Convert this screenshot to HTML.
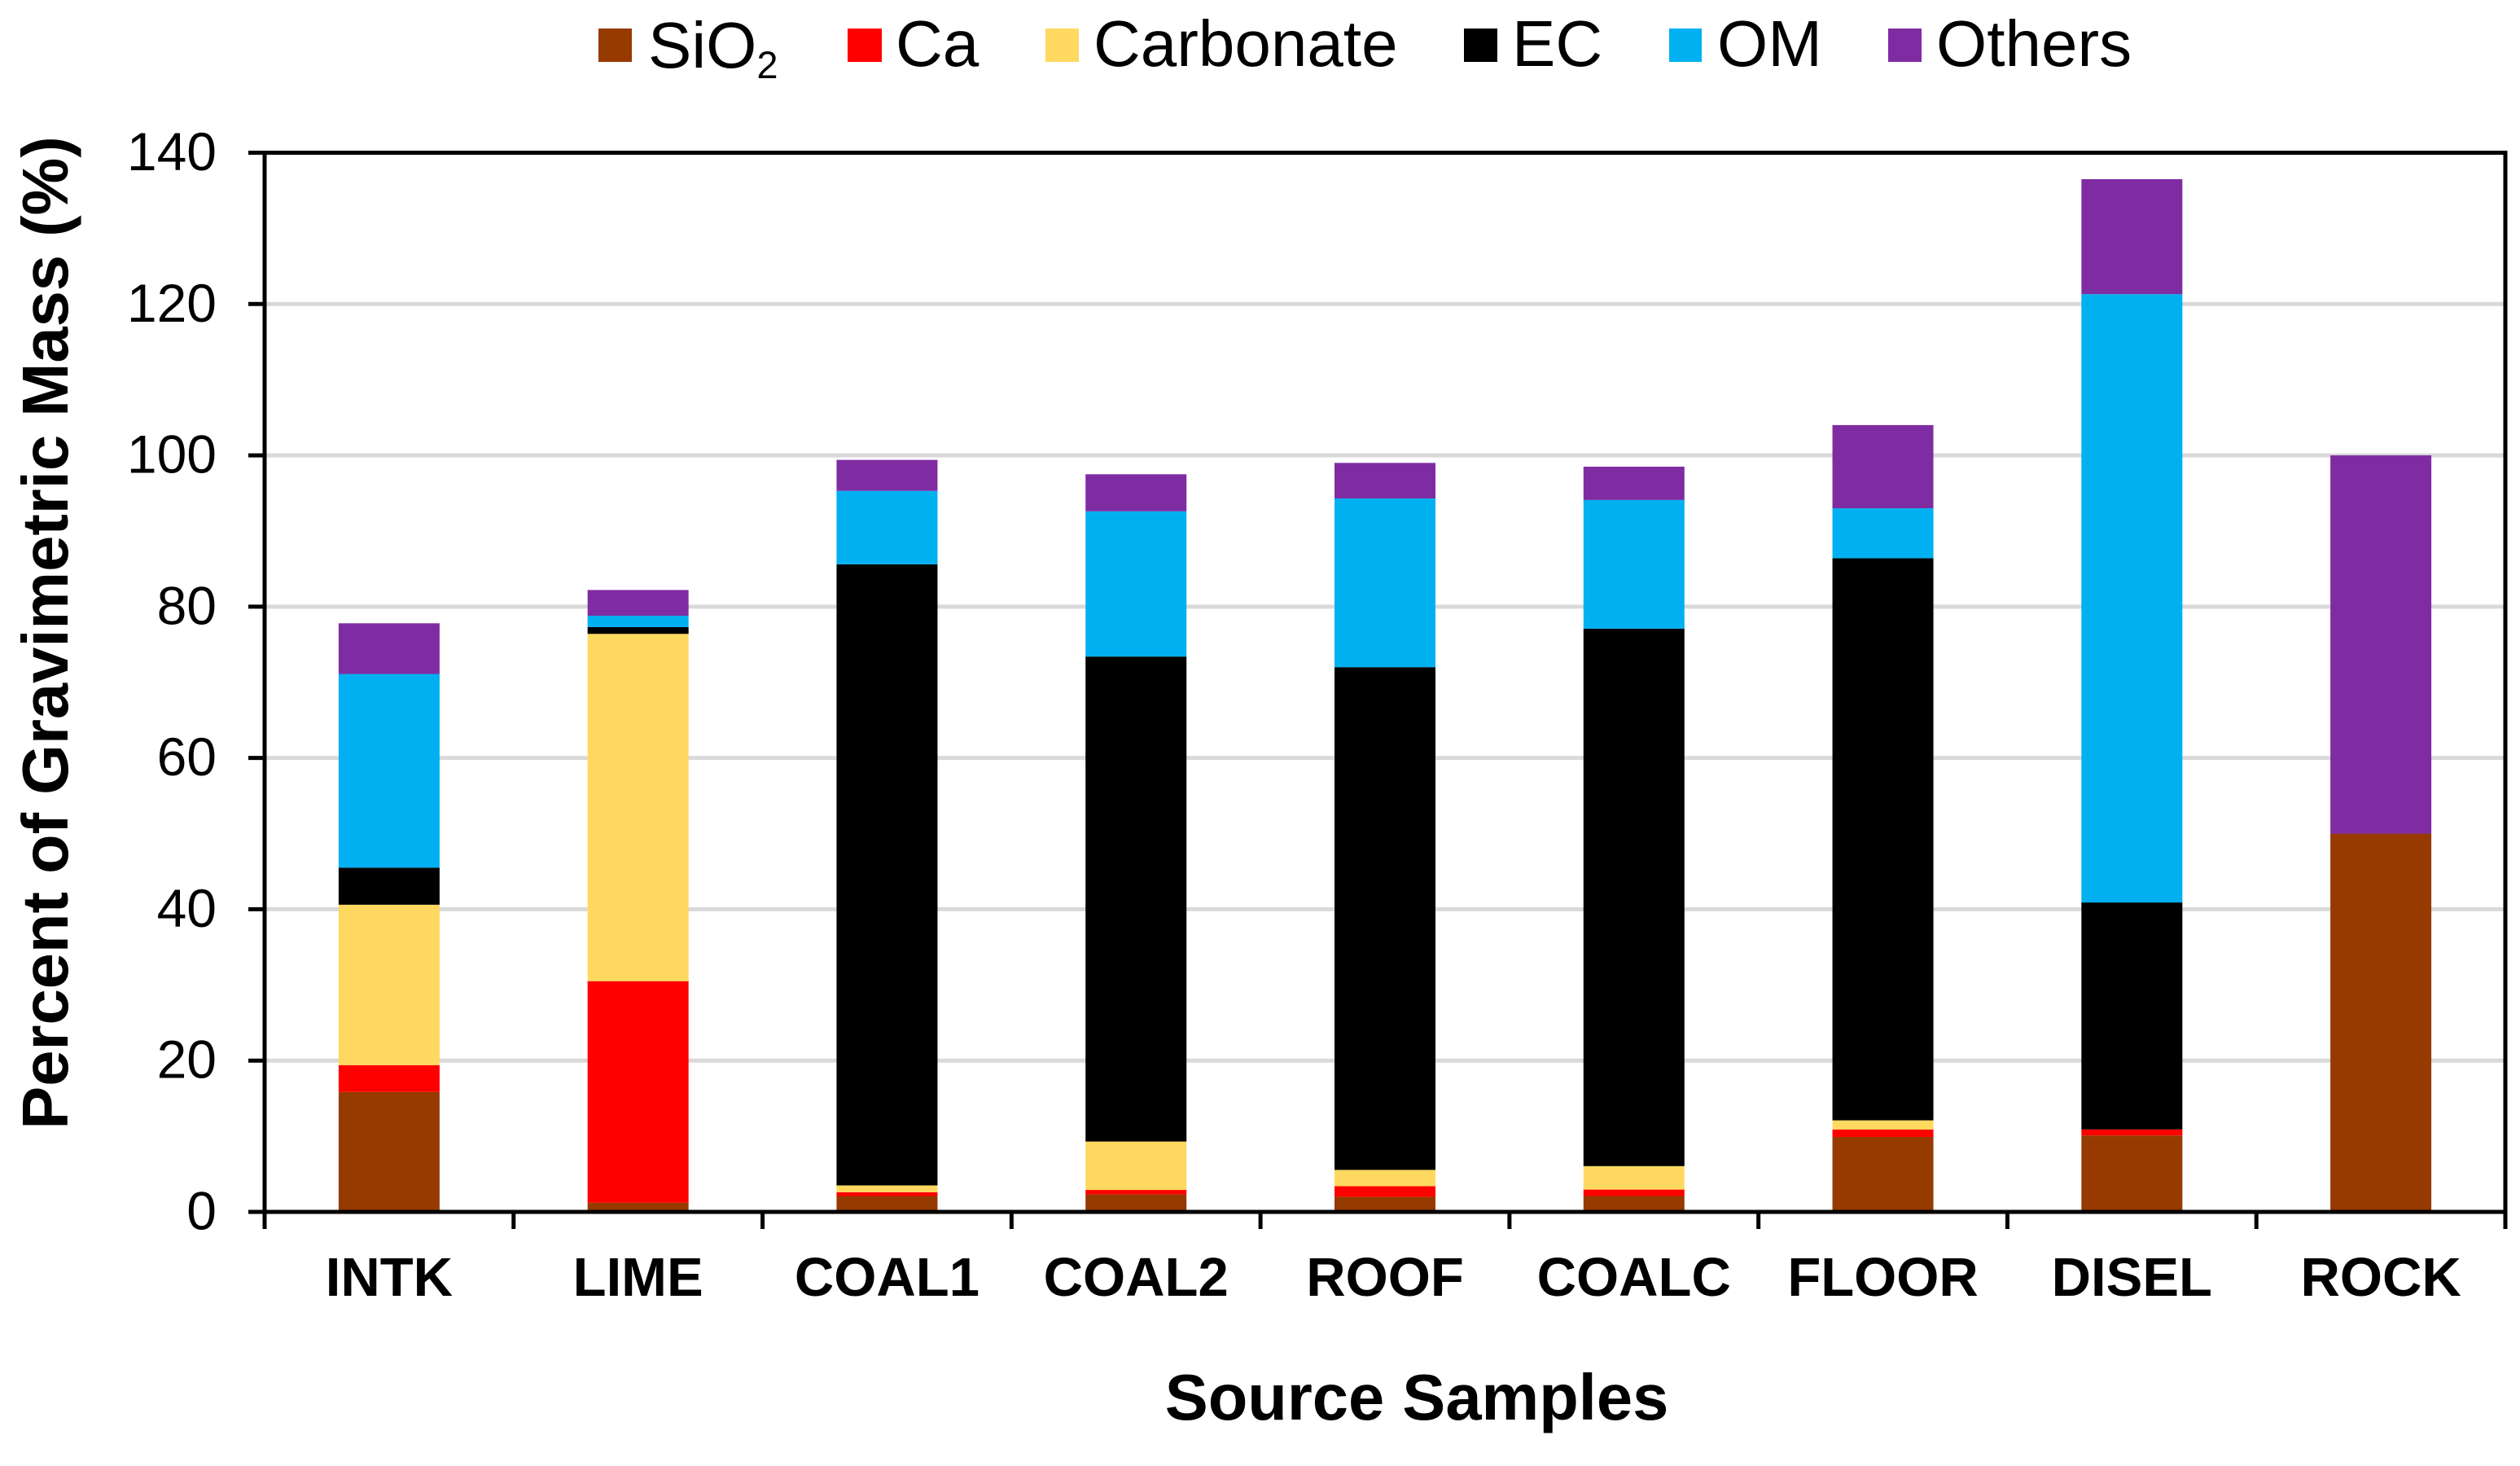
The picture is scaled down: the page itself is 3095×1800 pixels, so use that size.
<!DOCTYPE html>
<html lang="en">
<head>
<meta charset="utf-8">
<title>Percent of Gravimetric Mass by Source Sample</title>
<style>
  html, body { margin: 0; padding: 0; background: #fff; }
  svg { display: block; }
  text { font-family: "Liberation Sans", Arial, sans-serif; fill: #000; }
</style>
</head>
<body>
<svg id="chart" xmlns="http://www.w3.org/2000/svg" width="3095" height="1800" viewBox="0 0 3095 1800">
  <rect x="0" y="0" width="3095" height="1800" fill="#ffffff"/>
  <g id="grid"></g>
  <g id="bars"></g>
  <g id="axes"></g>
  <g id="yticks"></g>
  <g id="xticks"></g>
  <text transform="translate(83 777) rotate(-90)" text-anchor="middle" font-size="79.5" font-weight="700">Percent of Gravimetric Mass (%)</text>
  <text x="1740" y="1743" text-anchor="middle" font-size="79.5" font-weight="700">Source Samples</text>
  <g>
    <g>
      <rect x="735" y="35" width="41" height="41" fill="#963A00"/>
      <text x="796" y="83" font-size="80">SiO<tspan font-size="47" y="96">2</tspan></text>
    </g>
    <g>
      <rect x="1041" y="35" width="42" height="41" fill="#FF0000"/>
      <text x="1100" y="81" font-size="80">Ca</text>
    </g>
    <g>
      <rect x="1284" y="35" width="41" height="41" fill="#FFD95F"/>
      <text x="1343" y="81" font-size="80">Carbonate</text>
    </g>
    <g>
      <rect x="1798" y="35" width="41" height="41" fill="#000000"/>
      <text x="1857" y="81" font-size="80">EC</text>
    </g>
    <g>
      <rect x="2050" y="35" width="40" height="41" fill="#00B0F0"/>
      <text x="2109" y="81" font-size="80">OM</text>
    </g>
    <g>
      <rect x="2319" y="35" width="41" height="41" fill="#7F2CA3"/>
      <text x="2378" y="81" font-size="80">Others</text>
    </g>
  </g>
</svg>
<script>
const categories = ["INTK", "LIME", "COAL1", "COAL2", "ROOF", "COALC", "FLOOR", "DISEL", "ROCK"];
const seriesNames = ["sio2", "ca", "carbonate", "ec", "om", "others"];
const sio2 = [15.85, 1.2, 2.1, 2.3, 2.0, 2.1, 9.9, 10.1, 50];
const ca = [3.55, 29.3, 0.5, 0.6, 1.4, 0.85, 1.0, 0.8, 0];
const carbonate = [21.2, 45.9, 0.9, 6.4, 2.15, 3.1, 1.2, 0, 0];
const ec = [4.9, 0.9, 82.1, 64.1, 66.45, 71.05, 74.3, 30, 0];
const om = [25.6, 1.5, 9.7, 19.2, 22.3, 17.0, 6.6, 80.4, 0];
const others = [6.7, 3.4, 4.1, 4.9, 4.7, 4.4, 11, 15.2, 50];
const yTicks = [0, 20, 40, 60, 80, 100, 120, 140];

const seriesValues = [sio2, ca, carbonate, ec, om, others];
const seriesColors = ["#963A00", "#FF0000", "#FFD95F", "#000000", "#00B0F0", "#7F2CA3"];

const NS = "http://www.w3.org/2000/svg";
const plotLeft = 325, plotRight = 3077, plotTop = 187.5, plotBottom = 1488;
const yMax = 140;
const barWidth = 124;
const bandWidth = (plotRight - plotLeft) / categories.length;

function yScale(v) { return plotBottom - (v / yMax) * (plotBottom - plotTop); }
function xBand(i) { return plotLeft + i * bandWidth; }

function make(tag, attrs, parent) {
  const el = document.createElementNS(NS, tag);
  for (const k in attrs) el.setAttribute(k, attrs[k]);
  parent.appendChild(el);
  return el;
}

const gridG = document.getElementById("grid");
const barsG = document.getElementById("bars");
const axesG = document.getElementById("axes");
const yticksG = document.getElementById("yticks");
const xticksG = document.getElementById("xticks");

/* gridlines and y ticks */
yTicks.forEach(function (t) {
  const y = yScale(t);
  if (t !== 0 && t !== yMax) {
    const g = make("line", { x1: plotLeft, x2: plotRight, y1: y, y2: y, stroke: "#D9D9D9", "stroke-width": 5 }, gridG);
    
    
  }
  const tick = make("line", { x1: 305, x2: plotLeft, y1: y, y2: y, stroke: "#000", "stroke-width": 5 }, axesG);
  
  
  const label = make("text", { x: 266, y: y + 21.5, "text-anchor": "end", "font-size": 66 }, yticksG);
  label.textContent = String(t);
  
  
});

/* stacked bars */
categories.forEach(function (cat, i) {
  const cx = xBand(i) + bandWidth / 2;
  let cum = 0;
  seriesValues.forEach(function (vals, s) {
    const v = vals[i];
    if (v > 0) {
      const y0 = yScale(cum);
      const y1 = yScale(cum + v);
      const r = make("rect", { x: cx - barWidth / 2, y: y1, width: barWidth, height: y0 - y1, fill: seriesColors[s] }, barsG);
      
      
      r.setAttribute('data-series', seriesNames[s]);
      r.setAttribute('data-category', cat);
    }
    cum += v;
  });
  const label = make("text", { x: cx, y: 1591, "text-anchor": "middle", "font-size": 67, "font-weight": 700 }, xticksG);
  label.textContent = cat;
  
  
});

/* x ticks */
for (let i = 0; i <= categories.length; i++) {
  const x = xBand(i);
  const tick = make("line", { x1: x, x2: x, y1: plotBottom, y2: 1509, stroke: "#000", "stroke-width": 5 }, axesG);
  
  
}

/* frame */
const left = make("line", { x1: plotLeft, x2: plotLeft, y1: plotTop, y2: plotBottom, stroke: "#000", "stroke-width": 5 }, axesG);


const right = make("line", { x1: plotRight, x2: plotRight, y1: plotTop, y2: plotBottom, stroke: "#000", "stroke-width": 5 }, axesG);


const top_ = make("line", { x1: 305, x2: plotRight + 2.5, y1: plotTop, y2: plotTop, stroke: "#000", "stroke-width": 5 }, axesG);


const bottom = make("line", { x1: 305, x2: plotRight + 2.5, y1: plotBottom, y2: plotBottom, stroke: "#000", "stroke-width": 5 }, axesG);


</script>
</body>
</html>
